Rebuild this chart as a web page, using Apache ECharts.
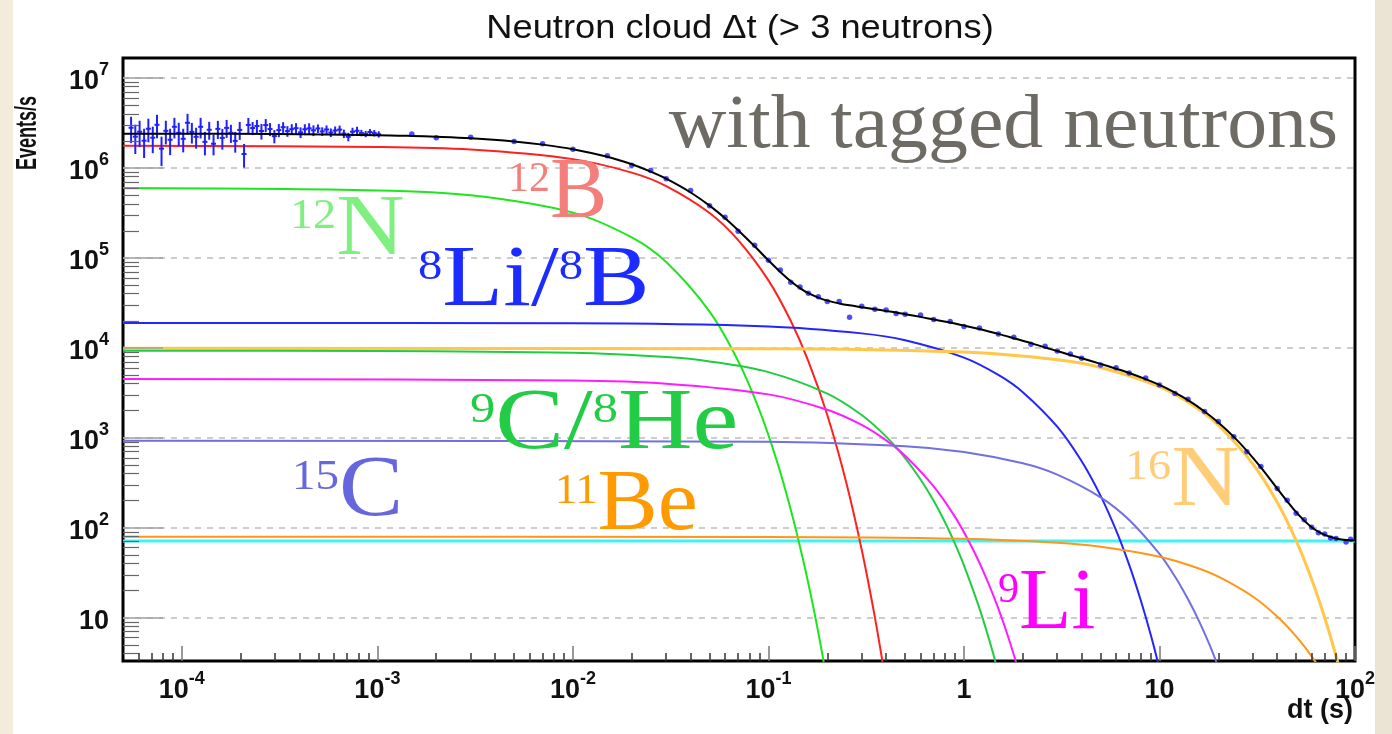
<!DOCTYPE html>
<html>
<head>
<meta charset="utf-8">
<title>Neutron cloud dt</title>
<script src="https://cdn.jsdelivr.net/npm/echarts@6/dist/echarts.min.js"></script>
<style>
  html, body { margin: 0; padding: 0; }
  #chart {
    width: 1392px;
    height: 734px;
    background: linear-gradient(to right, #f3ebdc 0, #f3ebdc 13px, #fff 13px, #fff 1375px, #ebe3d4 1375px);
  }
</style>
</head>
<body>
<div id="chart"></div>
<script>
// axis ranges (seconds / events per second)
const tMin = 5e-5
const tMax = 100
const rMin = 3.3
const rMax = 1.67e7
const xTickExp = [-4, -3, -2, -1, 0, 1, 2]
const yTickExp = [1, 2, 3, 4, 5, 6, 7]

// fit components
const b12T = [5e-5, 1e-3, 3e-3, 0.01, 0.02, 0.03, 0.05, 0.07, 0.1, 0.13, 0.16, 0.2, 0.25, 0.3, 0.35, 0.4]
const b12V = [1.767e6, 1.71e6, 1.60e6, 1.254e6, 8.88e5, 6.29e5, 3.16e5, 1.58e5, 5.63e4, 2.00e4, 7.11e3, 1.79e3, 319, 57.0, 10.2, 1.81]
const n12T = [5e-5, 1e-3, 3e-3, 0.01, 0.02, 0.03, 0.05, 0.07, 0.09, 0.11, 0.13, 0.15, 0.17, 0.19, 0.21]
const n12V = [5.98e5, 5.63e5, 4.96e5, 3.19e5, 1.69e5, 8.99e4, 2.53e4, 7.15e3, 2.02e3, 569, 160, 45.2, 12.8, 3.60, 1.01]
const li8T = [5e-5, 0.01, 0.1, 0.3, 0.5, 1, 1.5, 2, 3, 4, 5, 6, 7, 8, 9, 10, 11]
const li8V = [1.89e4, 1.873e4, 1.73e4, 1.449e4, 1.214e4, 7.80e3, 5.01e3, 3.22e3, 1.33e3, 548, 226, 93.4, 38.6, 15.9, 6.57, 2.71, 1.12]
const n16T = [5e-5, 0.1, 1, 3, 5, 10, 15, 20, 30, 40, 50, 60, 70, 80, 90]
const n16V = [9.9e3, 9.80e3, 8.97e3, 7.37e3, 6.05e3, 3.70e3, 2.26e3, 1.38e3, 515, 192, 71.8, 26.8, 10.0, 3.74, 1.40]
const c9T = [5e-5, 1e-3, 0.01, 0.03, 0.05, 0.1, 0.2, 0.3, 0.4, 0.5, 0.6, 0.7, 0.8, 0.9, 1.0, 1.2, 1.4, 1.6]
const c9V = [9.3e3, 9.25e3, 8.80e3, 7.89e3, 7.07e3, 5.37e3, 3.10e3, 1.79e3, 1.03e3, 596, 344, 199, 115, 66.2, 38.2, 12.7, 4.24, 1.41]
const li9T = [5e-5, 0.01, 0.03, 0.1, 0.2, 0.3, 0.4, 0.5, 0.7, 0.9, 1.1, 1.3, 1.5, 1.7, 1.9]
const li9V = [4.5e3, 4.33e3, 4.00e3, 3.04e3, 2.05e3, 1.39e3, 937, 633, 289, 132, 60.2, 27.5, 12.6, 5.73, 2.61]
const c15T = [5e-5, 0.1, 0.5, 1, 2, 3, 5, 7, 10, 12, 14, 16, 18, 20]
const c15V = [930, 903, 805, 696, 521, 390, 218, 122, 51.2, 28.7, 16.0, 9.0, 5.04, 2.82]
const be11T = [5e-5, 0.1, 1, 3, 5, 10, 15, 20, 30, 40, 50, 60, 70]
const be11V = [79.4, 79.0, 75.4, 68.1, 61.5, 47.7, 36.9, 28.6, 17.2, 10.3, 6.19, 3.72, 2.23]
const bgT = [5e-5, 100]
const bgV = [71.2, 71.2]

// total fit (black)
const fitT = [5e-5, 1e-4, 3e-4, 1e-3, 1.5e-3, 2e-3, 3e-3, 5e-3, 7e-3, 0.01, 0.015, 0.02, 0.025, 0.03, 0.04, 0.05, 0.06, 0.07, 0.085, 0.1,
  0.115, 0.13, 0.145, 0.16, 0.18, 0.2, 0.23, 0.26, 0.3, 0.35, 0.4, 0.45, 0.5, 0.6, 0.7, 0.85, 1, 1.2, 1.5, 1.8,
  2.2, 2.6, 3, 3.5, 4, 5, 6, 7, 8.5, 10, 12, 14, 17, 20, 24, 28, 33, 40, 45, 50, 55, 60, 65, 70, 75, 80, 90, 100]
const fitV = [2.409e6, 2.404e6, 2.384e6, 2.317e6, 2.270e6, 2.224e6, 2.136e6, 1.970e6, 1.818e6, 1.616e6, 1.330e6, 1.099e6, 9.12e5, 7.60e5, 5.34e5, 3.81e5, 2.762e5, 2.035e5, 1.347e5, 9.40e4,
  6.97e4, 5.51e4, 4.62e4, 4.05e4, 3.62e4, 3.35e4, 3.12e4, 2.97e4, 2.83e4, 2.69e4, 2.57e4, 2.47e4, 2.37e4, 2.21e4, 2.07e4, 1.91e4, 1.77e4, 1.62e4, 1.43e4, 1.28e4,
  1.13e4, 1.01e4, 9.23e3, 8.34e3, 7.66e3, 6.63e3, 5.87e3, 5.26e3, 4.49e3, 3.87e3, 3.18e3, 2.62e3, 1.96e3, 1.48e3, 1025, 717, 469, 273, 197, 149, 120, 101.5, 90.3, 83.2, 78.8, 76.1, 73.2, 72.2]

// measured points: short bins with error bars
const histT = [5.50e-5, 5.78e-5, 6.08e-5, 6.41e-5, 6.74e-5, 7.10e-5, 7.46e-5, 7.87e-5, 8.28e-5, 8.71e-5, 9.16e-5, 9.64e-5,
  1.016e-4, 1.069e-4, 1.125e-4, 1.183e-4, 1.247e-4, 1.312e-4, 1.380e-4, 1.452e-4, 1.528e-4, 1.611e-4, 1.694e-4, 1.782e-4, 1.875e-4, 1.977e-4,
  2.080e-4, 2.188e-4, 2.301e-4, 2.421e-4, 2.553e-4, 2.685e-4, 2.825e-4, 2.972e-4, 3.133e-4, 3.296e-4, 3.467e-4, 3.648e-4, 3.837e-4, 4.046e-4,
  4.256e-4, 4.477e-4, 4.710e-4, 4.966e-4, 5.224e-4, 5.495e-4, 5.78e-4, 6.08e-4, 6.41e-4, 6.74e-4, 7.10e-4, 7.46e-4, 7.87e-4, 8.28e-4, 8.71e-4, 9.16e-4, 9.64e-4, 1.016e-3]
const histV = [2.80e6, 2.23e6, 2.53e6, 2.01e6, 2.73e6, 2.17e6, 3.02e6, 1.64e6, 2.59e6, 2.06e6, 2.87e6, 2.46e6,
  2.11e6, 3.18e6, 2.52e6, 2.22e6, 2.87e6, 1.95e6, 2.66e6, 1.86e6, 2.72e6, 2.16e6, 2.79e6, 2.46e6, 2.00e6, 2.65e6,
  1.43e6, 3.01e6, 2.78e6, 2.93e6, 2.58e6, 3.00e6, 2.71e6, 2.26e6, 2.64e6, 2.84e6, 2.57e6, 2.70e6, 2.77e6, 2.49e6,
  2.69e6, 2.76e6, 2.62e6, 2.75e6, 2.55e6, 2.68e6, 2.48e6, 2.61e6, 2.67e6, 2.41e6, 2.22e6, 2.53e6, 2.59e6, 2.45e6, 2.39e6, 2.51e6, 2.44e6, 2.37e6]
const histErr = [0.91e6, 0.80e6, 0.82e6, 0.72e6, 0.80e6, 0.71e6, 0.88e6, 0.59e6, 0.76e6, 0.67e6, 0.74e6, 0.72e6,
  0.62e6, 0.82e6, 0.65e6, 0.58e6, 0.74e6, 0.57e6, 0.60e6, 0.48e6, 0.62e6, 0.56e6, 0.63e6, 0.56e6, 0.52e6, 0.60e6,
  0.42e6, 0.59e6, 0.46e6, 0.49e6, 0.51e6, 0.50e6, 0.45e6, 0.38e6, 0.44e6, 0.39e6, 0.35e6, 0.37e6, 0.38e6, 0.34e6,
  0.37e6, 0.38e6, 0.36e6, 0.30e6, 0.28e6, 0.29e6, 0.27e6, 0.28e6, 0.29e6, 0.26e6, 0.24e6, 0.27e6, 0.28e6, 0.20e6, 0.19e6, 0.20e6, 0.20e6, 0.19e6]

// measured points further out (errors smaller than the marker)
const tailT = [1.5e-3, 2e-3, 3e-3, 5e-3, 7e-3, 0.01, 0.015, 0.02, 0.025, 0.03, 0.04, 0.05, 0.06, 0.07, 0.085, 0.1,
  0.115, 0.13, 0.145, 0.16, 0.18, 0.2, 0.23, 0.26, 0.3, 0.35, 0.4, 0.45, 0.5, 0.6, 0.7, 0.85, 1, 1.2, 1.5, 1.8,
  2.2, 2.6, 3, 3.5, 4, 5, 6, 7, 8.5, 10, 12, 14, 17, 20, 24, 28, 33, 40, 45, 50, 55, 60, 65, 70, 75, 80, 90, 95]
const tailV = [2.388e6, 2.168e6, 2.192e6, 1.970e6, 1.865e6, 1.616e6, 1.365e6, 1.072e6, 9.36e5, 7.60e5, 5.62e5, 3.81e5, 2.834e5, 1.984e5, 1.382e5, 9.40e4,
  7.33e4, 5.37e4, 4.74e4, 4.05e4, 3.71e4, 3.27e4, 3.28e4, 2.19e4, 2.90e4, 2.69e4, 2.64e4, 2.41e4, 2.37e4, 2.32e4, 2.07e4, 1.96e4, 1.73e4, 1.66e4, 1.43e4, 1.31e4,
  1.10e4, 1.04e4, 9.23e3, 8.56e3, 7.66e3, 6.46e3, 6.02e3, 5.26e3, 4.61e3, 3.87e3, 3.10e3, 2.69e3, 1.96e3, 1.52e3, 1030, 699, 481, 273, 202, 145, 123, 101, 88, 85.4, 76.8, 76.1, 69.5, 74.5]

const lg = Math.log10
const xMin = lg(tMin)
const xMax = lg(tMax)
const yMin = lg(rMin)
const yMax = lg(rMax)

function pts (ts, vs) {
  return ts.map((t, i) => [lg(t), lg(vs[i])])
}

// log minor ticks at 2..9 of each decade
function minorTicks (lo, hi) {
  const out = []
  for (let d = Math.floor(lo) - 1; d <= Math.ceil(hi); d++) {
    for (let m = 2; m <= 9; m++) {
      const v = d + lg(m)
      if (v > lo && v < hi) out.push(v)
    }
  }
  return out
}

function powLabel (v) {
  const n = Math.round(v)
  if (n === 0) return '{b|1}'
  if (n === 1) return '{b|10}'
  return '{b|10}{s|' + n + '}'
}

const labelRich = {
  b: { fontFamily: 'Liberation Sans', fontWeight: 'bold', fontSize: 27, color: '#111', lineHeight: 34, verticalAlign: 'bottom' },
  s: { fontFamily: 'Liberation Sans', fontWeight: 'bold', fontSize: 18, color: '#111', lineHeight: 18, verticalAlign: 'top' }
}

function curve (name, ts, vs, color, width, z) {
  return {
    name,
    type: 'line',
    data: pts(ts, vs),
    showSymbol: false,
    smooth: 0.35,
    clip: true,
    lineStyle: { color, width },
    z
  }
}

function iso (x, y, text, color, sx) {
  return {
    type: 'text',
    x,
    y,
    scaleX: sx,
    z: 50,
    style: {
      text,
      align: 'left',
      textAlign: 'left',
      verticalAlign: 'middle',
      textVerticalAlign: 'middle',
      fill: color,
      rich: {
        s: { fontFamily: 'Liberation Serif', fontSize: 42, lineHeight: 58, verticalAlign: 'top', fill: color, color },
        b: { fontFamily: 'Liberation Serif', fontSize: 86, lineHeight: 78, verticalAlign: 'bottom', fill: color, color }
      }
    }
  }
}

const chart = echarts.init(document.getElementById('chart'))

chart.setOption({
  animation: false,
  grid: {
    left: 123,
    right: 37,
    top: 58,
    bottom: 73,
    show: true,
    borderColor: '#000',
    borderWidth: 3,
    backgroundColor: '#fff'
  },
  xAxis: [{
    type: 'value',
    position: 'bottom',
    min: xMin,
    max: xMax,
    z: 6,
    axisLine: { show: false, onZero: false },
    splitLine: { show: false },
    axisTick: { show: true, inside: true, length: 15, customValues: xTickExp, lineStyle: { color: '#777', width: 1.5 } },
    axisLabel: { customValues: xTickExp, margin: 9, formatter: powLabel, rich: labelRich, hideOverlap: false, showMinLabel: true, showMaxLabel: true }
  }, {
    type: 'value',
    position: 'bottom',
    min: xMin,
    max: xMax,
    z: 6,
    axisLine: { show: false, onZero: false },
    splitLine: { show: false },
    axisLabel: { show: false },
    axisTick: { show: true, inside: true, length: 8, customValues: minorTicks(xMin, xMax), lineStyle: { color: '#333', width: 1.5 } }
  }],
  yAxis: [{
    type: 'value',
    position: 'left',
    min: yMin,
    max: yMax,
    z: 6,
    axisLine: { show: false, onZero: false },
    splitLine: { show: false },
    axisTick: { show: true, inside: true, length: 40, customValues: yTickExp, lineStyle: { color: '#a0a0a0', width: 1.5 } },
    axisLabel: { customValues: yTickExp, margin: 14, formatter: powLabel, rich: labelRich, hideOverlap: false }
  }, {
    type: 'value',
    position: 'left',
    min: yMin,
    max: yMax,
    z: 6,
    axisLine: { show: false, onZero: false },
    splitLine: { show: false },
    axisLabel: { show: false },
    axisTick: { show: true, inside: true, length: 16, customValues: minorTicks(yMin, yMax), lineStyle: { color: '#666', width: 1.2 } }
  }],
  series: [
    {
      name: 'background',
      type: 'line',
      data: pts(bgT, bgV),
      showSymbol: false,
      lineStyle: { color: '#3ff3f3', width: 3 },
      z: 2,
      markLine: {
        silent: true,
        symbol: 'none',
        label: { show: false },
        lineStyle: { color: '#bdbdbd', type: [6, 6], width: 1.5 },
        data: yTickExp.map(v => ({ yAxis: v })),
        z: 1
      }
    },
    curve('12B', b12T, b12V, '#ff2020', 2, 3),
    curve('12N', n12T, n12V, '#1ee61e', 2, 3),
    curve('8Li/8B', li8T, li8V, '#2424ff', 2, 3),
    curve('16N', n16T, n16V, '#ffc84a', 3, 3),
    curve('9C/8He', c9T, c9V, '#22cc40', 2, 3),
    curve('9Li', li9T, li9V, '#ff1cff', 2, 3),
    curve('15C', c15T, c15V, '#7070e0', 2, 3),
    curve('11Be', be11T, be11V, '#ff9618', 2, 3),
    {
      name: 'data',
      type: 'custom',
      z: 4,
      encode: { x: 0, y: 1 },
      renderItem: function (params, api) {
        const c = api.coord([api.value(0), api.value(1)])
        const lo = api.coord([api.value(0), api.value(2)])
        const hi = api.coord([api.value(0), api.value(3)])
        const st = { stroke: '#2020ff', lineWidth: 2 }
        return {
          type: 'group',
          children: [
            { type: 'line', shape: { x1: c[0], y1: hi[1], x2: c[0], y2: lo[1] }, style: st },
            { type: 'line', shape: { x1: c[0] - 2.5, y1: c[1], x2: c[0] + 2.5, y2: c[1] }, style: st }
          ]
        }
      },
      data: histT.map((t, i) => [lg(t), lg(histV[i]), lg(histV[i] - histErr[i]), lg(histV[i] + histErr[i])])
    },
    {
      name: 'data tail',
      type: 'scatter',
      z: 4,
      symbol: 'circle',
      symbolSize: 5.5,
      itemStyle: { color: '#2222ff' },
      data: pts(tailT, tailV)
    },
    curve('fit', fitT, fitV, '#000', 2, 5)
  ],
  graphic: [
    {
      type: 'text', x: 740, y: 29, scaleX: 1.1, z: 50,
      style: { text: 'Neutron cloud \u0394t (> 3 neutrons)', fontFamily: 'Liberation Sans', fontSize: 33, fill: '#111', align: 'center', textAlign: 'center', verticalAlign: 'middle', textVerticalAlign: 'middle' }
    },
    {
      type: 'text', x: 28, y: 96, rotation: Math.PI / 2, scaleY: 1.6, z: 50,
      style: { text: 'Events/s', fontFamily: 'Liberation Sans', fontWeight: 'bold', fontSize: 18, fill: '#111', align: 'right', textAlign: 'right', verticalAlign: 'middle', textVerticalAlign: 'middle' }
    },
    {
      type: 'text', x: 1353, y: 711, z: 50,
      style: { text: 'dt (s)', fontFamily: 'Liberation Sans', fontWeight: 'bold', fontSize: 27, fill: '#111', align: 'right', textAlign: 'right', verticalAlign: 'middle', textVerticalAlign: 'middle' }
    },
    {
      type: 'text', x: 1338, y: 127, scaleX: 1.05, z: 50,
      style: { text: 'with tagged neutrons', fontFamily: 'Liberation Serif', fontSize: 76, fill: '#6e6a64', align: 'right', textAlign: 'right', verticalAlign: 'middle', textVerticalAlign: 'middle' }
    },
    iso(508, 198, '{s|12}{b|B}', '#f47e7a', 1.0),
    iso(290, 235, '{s|12}{b|N}', '#7fef7f', 1.1),
    iso(418, 286, '{s|8}{b|Li/}{s|8}{b|B}', '#1c2cff', 1.16),
    iso(470, 429, '{s|9}{b|C/}{s|8}{b|He}', '#22cc44', 1.2),
    iso(292, 496, '{s|15}{b|C}', '#6666dd', 1.12),
    iso(555, 510, '{s|11}{b|Be}', '#ff9a00', 1.05),
    iso(998, 609, '{s|9}{b|Li}', '#ff00ff', 1.0),
    iso(1125, 486, '{s|16}{b|N}', '#ffcc77', 1.1)
  ]
})
</script>
</body>
</html>
